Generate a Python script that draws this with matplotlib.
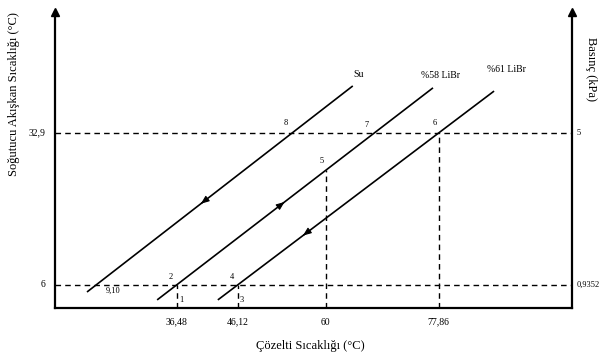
import matplotlib
matplotlib.use("Agg")
import matplotlib.pyplot as plt

plt.rcParams["font.family"] = ["Liberation Serif", "DejaVu Serif"]

# eksen değerleri
t_cozelti = [36.48, 46.12, 60, 77.86]
t_cozelti_lbl = ["36,48", "46,12", "60", "77,86"]
t_sogutucu = [6, 32.9]
t_sogutucu_lbl = ["6", "32,9"]
basinc_lbl = ["0,9352", "5"]

# konsantrasyon doğruları (uç noktalar)
su_x = [22.35, 64.30]
su_y = [4.76, 41.22]
libr58_x = [33.42, 76.96]
libr58_y = [3.36, 40.88]
libr61_x = [43.0, 86.6]
libr61_y = [3.36, 40.31]
egri_lbl = ["Su", "%58 LiBr", "%61 LiBr"]

# 5 noktasının sıcaklığı
t5 = 26.3

# nokta etiketleri
nokta_lbl = ["1", "2", "3", "4", "5", "6", "7", "8", "9,10"]
nokta_x = [37.2, 35.6, 46.7, 45.3, 59.4, 77.2, 66.4, 53.7, 26.4]
nokta_y = [3.4, 7.4, 3.4, 7.4, 28.0, 34.6, 34.3, 34.6, 4.9]

fig = plt.figure(figsize=(6.05, 3.58), dpi=100)
ax = fig.add_axes([55 / 605, 1 - 308 / 358, 517 / 605, 296 / 358])
ax.set_xlim(17.3, 98.9)
ax.set_ylim(1.93, 54.3)

ax.spines["top"].set_visible(False)
for s in ["left", "bottom", "right"]:
    ax.spines[s].set_linewidth(1.6)
ax.set_xticks([])
ax.set_yticks([])

# eksen okları
ax.plot([0, 1], [1.0, 1.0], marker="^", ms=6, color="black", lw=0,
        transform=ax.transAxes, clip_on=False)

dash = dict(color="black", lw=1.0, ls=(0, (4, 3)))

# yatay kesikli çizgiler
for t in t_sogutucu:
    ax.plot([17.3, 98.9], [t, t], **dash)

# dikey kesikli çizgiler
ax.plot([t_cozelti[0], t_cozelti[0]], [1.93, t_sogutucu[0]], **dash)
ax.plot([t_cozelti[1], t_cozelti[1]], [1.93, t_sogutucu[0]], **dash)
ax.plot([t_cozelti[2], t_cozelti[2]], [1.93, t5], **dash)
ax.plot([t_cozelti[3], t_cozelti[3]], [1.93, t_sogutucu[1]], **dash)

# doğrular
for xs, ys in [(su_x, su_y), (libr58_x, libr58_y), (libr61_x, libr61_y)]:
    ax.plot(xs, ys, color="black", lw=1.2, solid_capstyle="butt")


def yon_oku(xs, ys, frac, ters):
    x = xs[0] + (xs[1] - xs[0]) * frac
    y = ys[0] + (ys[1] - ys[0]) * frac
    dx = (xs[1] - xs[0]) * 0.02
    dy = (ys[1] - ys[0]) * 0.02
    if ters:
        dx, dy = -dx, -dy
    ax.annotate("", xy=(x + dx, y + dy), xytext=(x, y),
                arrowprops=dict(arrowstyle="-|>,head_length=0.5,head_width=0.2",
                                color="black", lw=0.8))


yon_oku(su_x, su_y, 0.44, True)
yon_oku(libr58_x, libr58_y, 0.45, False)
yon_oku(libr61_x, libr61_y, 0.32, True)

# eğri adları
ax.text(su_x[1] + 0.9, su_y[1] + 1.6, egri_lbl[0], fontsize=7, ha="center")
ax.text(libr58_x[1] + 1.2, libr58_y[1] + 1.8, egri_lbl[1], fontsize=7, ha="center")
ax.text(libr61_x[1] + 2.0, libr61_y[1] + 3.4, egri_lbl[2], fontsize=7, ha="center")

for lbl, x, y in zip(nokta_lbl, nokta_x, nokta_y):
    ax.text(x, y, lbl, fontsize=6, ha="center", va="center")

# eksen değer etiketleri
for t, lbl in zip(t_cozelti, t_cozelti_lbl):
    ax.text(t, 1.93 - 2.5, lbl, fontsize=7, ha="center", va="center")
for t, lbl in zip(t_sogutucu, t_sogutucu_lbl):
    ax.text(17.3 - 1.5, t, lbl, fontsize=7, ha="right", va="center")
for t, lbl in zip(t_sogutucu, basinc_lbl):
    ax.text(98.9 + 0.7, t, lbl, fontsize=6, ha="left", va="center")

fig.text(310 / 605, 1 - 346 / 358, "Çözelti Sıcaklığı (°C)", fontsize=9,
         ha="center", va="center")
fig.text(14 / 605, 1 - 94 / 358, "Soğutucu Akışkan Sıcaklığı (°C)", fontsize=9,
         ha="center", va="center", rotation=90)
fig.text(591 / 605, 1 - 69 / 358, "Basınç (kPa)", fontsize=9,
         ha="center", va="center", rotation=-90)

fig.savefig("out.png", dpi=100)
